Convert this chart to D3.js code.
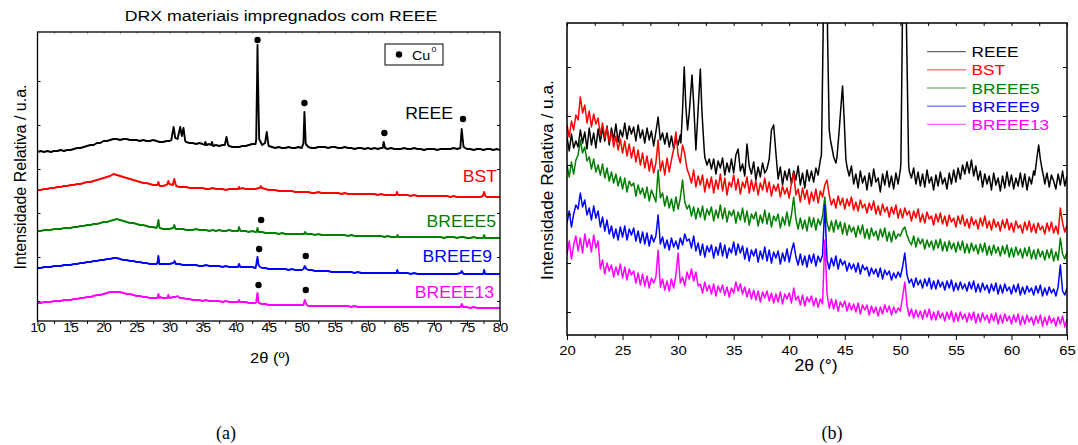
<!DOCTYPE html>
<html>
<head>
<meta charset="utf-8">
<script src="https://cdn.jsdelivr.net/npm/d3@7"></script>
<style>
  body { margin: 0; background: #fff; }
  svg text { font-family: "Liberation Sans", Arial, sans-serif; }
</style>
</head>
<body>
<div id="app"></div>
<script>
// ---------- data ----------
const seriesNames = ["REEE", "BST", "BREEE5", "BREEE9", "BREEE13"];
const seriesColors = ["#000000", "#ff0000", "#008000", "#0000ff", "#ff00ff"];

const xTicksA = [10, 15, 20, 25, 30, 35, 40, 45, 50, 55, 60, 65, 70, 75, 80];
const xTicksB = [20, 25, 30, 35, 40, 45, 50, 55, 60, 65];
const yTicksA = [20, 64, 108, 152, 196, 240];
const yTicksB = [23, 72, 121, 170, 219, 268];

// panel (a): intensity (u.a.) every 0.5 deg from 10 to 80
const reeeA = [
169,170,169,170,169,170,170,171,170,171,
171,172,173,173,174,175,176,176,178,178,
180,180,181,182,182,181,182,182,181,181,
181,180,181,180,180,181,180,179,179,180,
180,180,181,181,180,179,178,178,177,178,
177,176,177,176,176,175,176,175,175,174,
174,174,175,175,176,177,177,178,176,177,
175,174,173,174,173,173,174,173,173,174,
173,175,174,173,173,174,174,174,173,174,
174,173,173,174,173,173,172,173,173,172,
173,172,173,172,173,172,172,173,172,172,
172,173,172,172,173,172,172,171,172,172,
172,171,172,172,172,172,173,172,173,174,
172,172,171,172,172,171,172,172,171,172,
171];
const bstA = [
131,131,132,132,133,133,134,134,135,135,
136,136,137,137,138,139,139,140,141,142,
143,144,145,147,146,145,144,143,142,141,
140,139,138,138,137,136,136,135,135,136,
137,136,135,134,134,134,133,133,133,133,
133,132,132,133,132,132,132,131,132,132,
132,132,133,132,132,132,132,133,133,132,
131,131,131,130,130,130,130,130,129,129,
129,129,129,128,128,129,128,128,128,128,
128,128,127,128,127,127,127,127,127,127,
127,127,127,126,127,126,126,126,126,126,
126,126,126,125,126,125,125,125,125,125,
125,125,125,125,125,124,125,124,124,124,
124,124,124,124,124,124,124,124,124,124,
124];
const breee5A = [
90,90,91,91,91,92,92,92,93,93,
93,94,94,95,95,96,96,97,97,98,
99,99,100,101,102,101,100,99,98,98,
97,96,96,95,94,94,93,93,92,92,
92,93,92,92,92,91,91,91,92,91,
91,91,90,91,90,91,90,90,91,90,
90,90,90,90,89,90,89,89,89,88,
88,88,88,87,88,87,87,87,87,87,
87,88,87,87,86,87,86,86,86,86,
86,86,86,86,85,86,85,85,85,85,
85,85,85,85,85,84,85,84,84,84,
84,84,84,84,84,84,84,84,84,84,
84,84,84,83,84,84,84,83,84,84,
83,83,84,83,83,84,83,83,83,83,
83];
const breee9A = [
53,53,54,54,54,55,55,55,56,56,
56,57,57,58,58,59,59,60,60,61,
61,62,62,63,63,62,61,61,60,60,
59,59,58,58,57,57,57,57,57,57,
57,58,57,57,56,56,56,56,56,55,
55,56,55,55,55,55,54,55,54,54,
54,54,54,54,54,54,53,53,53,53,
52,52,52,52,52,52,51,52,51,51,
51,52,51,51,50,50,50,50,50,49,
49,49,49,49,49,49,48,49,48,48,
48,48,48,48,48,48,48,48,48,48,
48,48,48,47,48,47,47,47,47,47,
47,47,47,47,47,47,47,47,48,47,
47,47,47,47,47,47,47,47,47,47,
47];
const breee13A = [
18,18,19,19,19,20,20,20,21,21,
21,22,22,23,23,24,24,25,26,26,
27,28,29,29,29,29,28,27,27,26,
25,25,24,24,23,23,23,24,23,23,
23,24,24,23,23,22,22,21,21,21,
20,21,20,20,20,20,19,20,19,19,
19,19,19,19,18,18,18,18,17,17,
16,16,16,16,16,16,16,16,16,16,
16,16,15,15,15,15,15,15,15,15,
15,15,15,15,15,14,15,14,14,14,
14,14,14,14,14,14,14,14,14,14,
14,14,14,14,14,14,14,14,14,14,
14,14,14,14,14,14,14,14,14,14,
14,13,14,13,13,13,13,13,13,13,
13];

// sharp reflections of panel (a), [2theta, intensity]
const reeePeaksA = [
  [[30.25,181],[30.6,194],[30.85,183],[31.2,182],[31.6,194],[31.85,185],[32.1,193],[32.35,180]],
  [[35.3,176],[35.4,179],[35.6,176]],
  [[36.3,176],[36.4,179],[36.6,175]],
  [[38.35,176],[38.6,184],[38.85,176]],
  [[43.1,181],[43.25,250],[43.3,276],[43.35,250],[43.55,182]],
  [[44.45,178],[44.7,189],[44.95,176]],
  [[50.25,178],[50.4,209],[50.6,177]],
  [[62.25,173],[62.4,179],[62.6,173]],
  [[74.05,178],[74.2,192],[74.45,176]]
];
const bstPeaksA = [
  [[28.15,136],[28.3,139],[28.45,136]],
  [[29.65,137],[29.8,140],[29.95,137]],
  [[30.55,138],[30.7,142],[30.9,137]],
  [[40.35,132],[40.5,134],[40.65,132]],
  [[43.65,133],[43.8,135],[43.95,133]],
  [[64.25,126],[64.4,129],[64.55,126]],
  [[77.4,125],[77.6,129],[77.8,125]]
];
const breee5PeaksA = [
  [[28.15,95],[28.3,101],[28.45,94]],
  [[30.55,93],[30.7,96],[30.9,92]],
  [[40.35,90],[40.5,94],[40.7,90]],
  [[43.15,89],[43.3,93],[43.45,89]],
  [[50.35,87],[50.5,89],[50.7,87]],
  [[64.35,84],[64.5,86],[64.65,84]],
  [[77.45,83],[77.6,86],[77.75,83]]
];
const breee9PeaksA = [
  [[28.15,58],[28.3,65],[28.45,57]],
  [[30.55,58],[30.75,60],[30.95,57]],
  [[40.35,54],[40.5,57],[40.7,54]],
  [[43.1,56],[43.3,64],[43.45,56],[43.7,54]],
  [[50.25,52],[50.45,55],[50.7,52]],
  [[64.35,48],[64.45,51],[64.6,48]],
  [[74.05,48],[74.2,50],[74.4,48]],
  [[77.45,47],[77.6,51],[77.75,47]]
];
const breee13PeaksA = [
  [[28.15,23],[28.3,27],[28.45,23]],
  [[29.65,23],[29.8,26],[29.95,23]],
  [[30.9,24],[31.2,25],[31.4,24]],
  [[40.35,19],[40.5,21],[40.65,19]],
  [[43.1,19],[43.3,28],[43.45,19]],
  [[50.25,16],[50.45,21],[50.75,16]],
  [[74.05,14],[74.2,17],[74.4,14]]
];

// Cu0 markers of panel (a), [2theta, intensity]
const cuMarks = [[43.3,281],[50.4,218],[62.5,188],[74.4,202],[43.85,101],[43.55,72],[50.6,65],[43.45,36],[50.6,31]];

// panel (b): intensity (u.a.) every 0.2 deg from 20 to 65
const reeeB = [
198,184,201,187,194, 188,205,192,203,186, 207,190,202,187,206, 193,207,194,209,190,
207,195,211,193,205, 198,212,196,209,201, 208,194,210,197,205, 192,207,195,204,189,
203,218,195,202,191, 202,188,199,186,197, 190,200,195,195,195, 195,195,195,195,195,
195,195,178,170,176, 166,176,161,174,167, 177,160,172,163,176, 162,180,186,164,171,
159,191,169,161,173, 155,168,158,172,162, 166,176,205,210,182, 156,168,150,164,155,
166,151,164,155,169, 150,162,147,165,154, 164,153,167,160,175, 180,180,180,180,190,
178,172,180,180,180, 180,168,159,169,151, 161,147,164,152,159, 145,162,149,166,153,
157,143,161,150,164, 148,159,146,162,151, 165,165,165,165,164, 157,167,151,163,149,
161,148,165,152,158, 145,160,149,163,151, 157,146,162,151,165, 153,167,156,170,161,
173,162,175,159,169, 155,164,148,161,151, 159,145,162,150,157, 144,159,147,163,149,
160,146,157,149,162, 148,161,145,158,151, 164,165,165,165,165, 151,162,148,160,154,
146,161,150,164,149, 159];
const bstB = [
210,198,214,205,220, 215,238,222,230,212, 224,208,221,211,217, 200,212,197,208,193,
203,188,199,185,196, 182,194,179,191,177, 188,173,185,170,182, 167,179,164,176,162,
172,195,164,174,160, 177,163,175,186,203, 180,172,190,181,166, 160,152,165,148,159,
150,160,143,156,147, 158,142,155,146,161, 144,157,140,153,148, 160,145,156,141,153,
147,158,142,155,144, 154,140,152,145,157, 143,153,139,150,144, 151,138,149,141,147,
137,152,162,140,146, 133,147,136,145,131, 143,134,146,132,144, 138,150,155,140,130,
136,127,139,130,137, 126,136,129,138,125, 133,124,135,127,131, 122,132,125,134,121,
129,120,131,123,128, 118,128,121,130,117, 126,117,127,120,124, 114,124,117,126,113,
121,112,123,116,119, 110,121,113,122,111, 119,109,120,113,117, 108,119,111,120,109,
116,107,118,110,115, 106,117,109,119,107, 114,105,116,108,113, 104,115,107,116,105,
112,103,114,107,110, 102,113,105,114,103, 111,102,112,105,109, 101,112,104,113,102,
109,101,127,112,103, 110];
const breee5B = [
170,158,173,161,175, 180,195,182,188,174, 178,166,176,163,170, 160,171,157,167,154,
163,152,161,149,158, 146,157,143,154,149, 152,139,150,141,147, 137,148,134,145,139,
133,165,137,142,129, 139,127,136,124,138, 126,137,155,133,126, 130,119,128,116,127,
118,129,115,126,120, 128,114,125,117,130, 116,127,113,124,119, 125,112,123,115,127,
113,124,110,121,116, 123,109,120,112,125, 111,122,108,119,114, 121,107,118,110,123,
109,120,138,116,106, 117,106,115,104,118, 108,117,105,116,110, 119,138,112,104,114,
103,115,106,113,101, 112,100,110,103,108, 98,109,101,110,97, 106,96,107,99,104,
95,106,98,107,94, 103,93,104,96,101, 99,105,108,100,94, 90,99,88,97,91,
96,86,95,88,94, 85,95,87,96,84, 93,84,94,86,92, 83,93,85,94,82,
91,82,92,84,90, 81,91,83,92,80, 89,80,90,82,88, 79,89,81,90,78,
87,78,88,80,86, 77,87,79,88,76, 85,76,86,78,84, 75,85,77,86,74,
83,75,97,81,76, 83];
const breee9B = [
112,124,108,121,130, 126,142,128,135,120, 127,115,129,117,124, 108,118,104,115,101,
109,97,106,95,108, 98,109,95,106,100, 107,94,104,92,103, 91,102,89,100,93,
99,120,91,98,87, 95,85,97,88,94, 86,97,90,101,94, 96,87,99,84,92,
80,91,78,89,83, 90,77,88,80,92, 79,90,77,87,82, 93,80,91,82,89,
76,87,74,85,79, 86,73,84,76,88, 74,85,72,83,77, 84,71,82,74,86,
73,84,92,78,70, 81,70,79,68,80, 72,81,69,79,73, 80,130,75,66,77,
69,79,66,76,70, 74,64,72,66,71, 63,72,61,70,65, 68,59,67,61,66,
58,67,56,65,60, 64,55,62,57,63, 58,68,82,60,52, 56,48,57,50,55,
47,56,49,57,46, 54,46,55,48,53, 45,54,47,55,44, 52,45,53,46,51,
44,53,46,54,43, 51,43,52,45,50, 42,51,44,52,41, 50,42,51,44,48,
41,50,43,51,40, 48,41,49,43,47, 40,49,42,50,39, 47,40,48,42,46,
39,48,70,44,40, 47];
const breee13B = [
80,94,76,90,99, 84,97,82,101,88, 96,83,100,87,94, 66,75,61,72,64,
70,58,68,60,71, 57,68,55,66,60, 64,52,62,50,61, 49,59,47,57,52,
58,85,48,56,45, 54,44,56,47,60, 82,52,58,49,63, 56,66,54,63,49,
51,42,53,44,50, 41,51,39,49,43, 50,40,48,38,47, 42,53,44,51,41,
48,38,46,36,45, 35,44,33,43,37, 44,34,42,32,41, 33,43,31,41,36,
42,32,47,35,39, 30,40,29,38,33, 39,29,37,28,36, 31,95,42,27,36,
26,35,24,33,28, 34,24,32,25,31, 23,32,21,30,25, 30,20,29,22,28,
19,28,21,30,23, 29,20,28,22,27, 24,38,53,30,19, 26,17,25,18,24,
16,25,18,26,15, 23,15,24,17,22, 14,23,16,24,13, 22,14,23,16,21,
13,22,15,23,12, 21,13,22,15,20, 12,21,14,22,11, 20,12,21,14,19,
11,20,13,21,10, 19,11,20,13,18, 10,19,12,20,9, 18,10,19,12,17,
9,18,11,19,8, 16];

// sharp reflections of REEE in panel (b)
const reeePeaksB = [
  [[30.25,192],[30.4,225],[30.55,268],[30.7,228],[30.85,205],[31.0,222],[31.25,260],[31.4,232],[31.6,185],[31.75,215],[32.0,266],[32.15,222],[32.35,185]],
  [[42.9,180],[43.05,300],[43.15,460],[43.35,460],[43.45,300],[43.6,205],[43.75,192]],
  [[44.3,178],[44.5,205],[44.65,228],[44.8,249],[44.95,215],[45.1,176]],
  [[50.05,172],[50.2,330],[50.3,460],[50.45,460],[50.55,310],[50.75,170]],
  [[62.1,160],[62.3,178],[62.45,190],[62.6,176],[62.75,166],[62.9,158]]
];

// ---------- helpers ----------
const gridA = d3.range(reeeA.length).map(i => +(10 + i * 0.5).toFixed(2));
const gridB = d3.range(reeeB.length).map(i => +(20 + i * 0.2).toFixed(2));

function buildSeries(grid, values, peaks) {
  const pts = grid.map((t, i) => [t, values[i]])
    .filter(([t]) => !peaks.some(p => t > p[0][0] && t < p[p.length - 1][0]));
  peaks.forEach(p => pts.push(...p));
  return pts.sort((a, b) => a[0] - b[0]);
}

const panelA = [
  buildSeries(gridA, reeeA, reeePeaksA),
  buildSeries(gridA, bstA, bstPeaksA),
  buildSeries(gridA, breee5A, breee5PeaksA),
  buildSeries(gridA, breee9A, breee9PeaksA),
  buildSeries(gridA, breee13A, breee13PeaksA)
];
const panelB = [
  buildSeries(gridB, reeeB, reeePeaksB),
  buildSeries(gridB, bstB, []),
  buildSeries(gridB, breee5B, []),
  buildSeries(gridB, breee9B, []),
  buildSeries(gridB, breee13B, [])
];

const W = 1078, H = 445;
const svg = d3.select("#app").append("svg")
  .attr("width", W)
  .attr("height", H)
  .style("background-color", "#fff");

function txt(g, x, y, s, size, anchor, fill, sx) {
  return g.append("text")
    .attr("transform", `translate(${x},${y}) scale(${sx},1)`)
    .attr("text-anchor", anchor)
    .attr("font-size", size)
    .attr("fill", fill)
    .text(s);
}

function frameAxes(g, x, y, ticksX, ticksY, o) {
  const [x0, x1] = x.range();
  const [y0, y1] = y.range();
  const minor = ticksX.slice(0, -1).map(v => v + 2.5);

  const bottom = g.append("g").attr("transform", `translate(0,${y0})`)
    .call(d3.axisBottom(x).tickValues(ticksX).tickSize(5).tickSizeOuter(0).tickFormat(d3.format("d")));
  bottom.select(".domain").remove();
  bottom.selectAll("text")
    .attr("y", o.labelDy).attr("dy", null)
    .attr("font-size", o.tickFont)
    .attr("font-family", '"Liberation Sans", Arial, sans-serif')
    .attr("transform", `scale(${o.sx},1)`);
  g.append("g").attr("transform", `translate(0,${y0})`)
    .call(d3.axisBottom(x).tickValues(minor).tickSize(3).tickFormat(""))
    .select(".domain").remove();

  // inward ticks on top, left and right
  g.append("g").attr("transform", `translate(0,${y1})`)
    .call(d3.axisBottom(x).tickValues(ticksX.concat(minor)).tickSize(o.topTick).tickFormat(""))
    .call(s => s.select(".domain").remove())
    .selectAll("line").attr("stroke-opacity", o.topOpacity);
  g.append("g").attr("transform", `translate(${x0},0)`)
    .call(d3.axisRight(y).tickValues(ticksY).tickSize(o.sideTick).tickFormat(""))
    .select(".domain").remove();
  g.append("g").attr("transform", `translate(${x1},0)`)
    .call(d3.axisLeft(y).tickValues(ticksY).tickSize(o.sideTick).tickFormat(""))
    .select(".domain").remove();

  g.append("rect")
    .attr("x", x0).attr("y", y1)
    .attr("width", x1 - x0).attr("height", y0 - y1)
    .attr("fill", "none").attr("stroke", "#000").attr("stroke-width", o.frame);
}

// ---------- panel (a) ----------
const xa = d3.scaleLinear().domain([10, 80]).range([37.5, 500]);
const ya = d3.scaleLinear().domain([0, 289]).range([321, 32]);
const ga = svg.append("g");

ga.append("clipPath").attr("id", "clipA").append("rect")
  .attr("x", 37.5).attr("y", 32).attr("width", 462.5).attr("height", 289);

const lineA = d3.line().x(d => xa(d[0])).y(d => ya(d[1]));
ga.append("g").attr("clip-path", "url(#clipA)")
  .selectAll("path")
  .data(panelA)
  .join("path")
  .attr("d", lineA)
  .attr("fill", "none")
  .attr("stroke", (d, i) => seriesColors[i])
  .attr("stroke-width", 1.9)
  .attr("stroke-linejoin", "round");

ga.selectAll(".cu")
  .data(cuMarks)
  .join("circle")
  .attr("class", "cu")
  .attr("cx", d => xa(d[0]))
  .attr("cy", d => ya(d[1]))
  .attr("r", 3.2)
  .attr("fill", "#000");

frameAxes(ga, xa, ya, xTicksA, yTicksA,
  { labelDy: 11, tickFont: 13, sx: 1.08, topTick: 2, topOpacity: 0.35, sideTick: 3, frame: 1.3 });

txt(ga, 281, 21, "DRX materiais impregnados com REEE", 15, "middle", "#000", 1.18);

// Cu0 legend box
ga.append("rect").attr("x", 385).attr("y", 44).attr("width", 58).attr("height", 21)
  .attr("fill", "#fff").attr("stroke", "#000").attr("stroke-width", 1);
ga.append("circle").attr("cx", 399).attr("cy", 54.5).attr("r", 3.2).attr("fill", "#000");
txt(ga, 412, 59.5, "Cu", 13, "start", "#000", 1.1);
txt(ga, 431.5, 52, "0", 8, "start", "#000", 1.1);

const labelPosA = [[453, 119], [497, 182], [496, 227], [492, 262], [494, 298]];
seriesNames.forEach((n, i) => txt(ga, labelPosA[i][0], labelPosA[i][1], n, 16, "end", seriesColors[i], 1.1));

txt(ga, 270, 363, "2θ (º)", 15, "middle", "#000", 1.1);
ga.append("text")
  .attr("transform", "translate(25.5,177) rotate(-90)")
  .attr("text-anchor", "middle")
  .attr("font-size", 16)
  .text("Intensidade Relativa / u.a.");

// ---------- panel (b) ----------
const xb = d3.scaleLinear().domain([20, 65]).range([567, 1067]);
const yb = d3.scaleLinear().domain([0, 312]).range([335, 23]);
const gb = svg.append("g");

gb.append("clipPath").attr("id", "clipB").append("rect")
  .attr("x", 567).attr("y", 23).attr("width", 500).attr("height", 312);

const lineB = d3.line().x(d => xb(d[0])).y(d => yb(d[1]));
gb.append("g").attr("clip-path", "url(#clipB)")
  .selectAll("path")
  .data(panelB)
  .join("path")
  .attr("d", lineB)
  .attr("fill", "none")
  .attr("stroke", (d, i) => seriesColors[i])
  .attr("stroke-width", 1.5)
  .attr("stroke-linejoin", "round");

frameAxes(gb, xb, yb, xTicksB, yTicksB,
  { labelDy: 20, tickFont: 13.5, sx: 1.1, topTick: 3, topOpacity: 1, sideTick: 4, frame: 1.5 });

// legend
const legB = gb.append("g");
seriesNames.forEach((n, i) => {
  const yy = 51.7 + i * 18.15;
  legB.append("line").attr("x1", 927).attr("x2", 966).attr("y1", yy).attr("y2", yy)
    .attr("stroke", seriesColors[i]).attr("stroke-width", 1).attr("stroke-opacity", 0.75);
  txt(legB, 971.5, yy + 5.6, n, 15, "start", seriesColors[i], 1.15);
});

txt(gb, 816, 371, "2θ (°)", 16, "middle", "#000", 1.1);
gb.append("text")
  .attr("transform", "translate(553,180) rotate(-90)")
  .attr("text-anchor", "middle")
  .attr("font-size", 17.3)
  .text("Intensidade Relativa / u.a.");

// captions
svg.append("text").attr("x", 226).attr("y", 439).attr("text-anchor", "middle")
  .attr("font-size", 18).style("font-family", '"Liberation Serif", "Times New Roman", serif').text("(a)");
svg.append("text").attr("x", 832).attr("y", 439).attr("text-anchor", "middle")
  .attr("font-size", 18).style("font-family", '"Liberation Serif", "Times New Roman", serif').text("(b)");
</script>
</body>
</html>
